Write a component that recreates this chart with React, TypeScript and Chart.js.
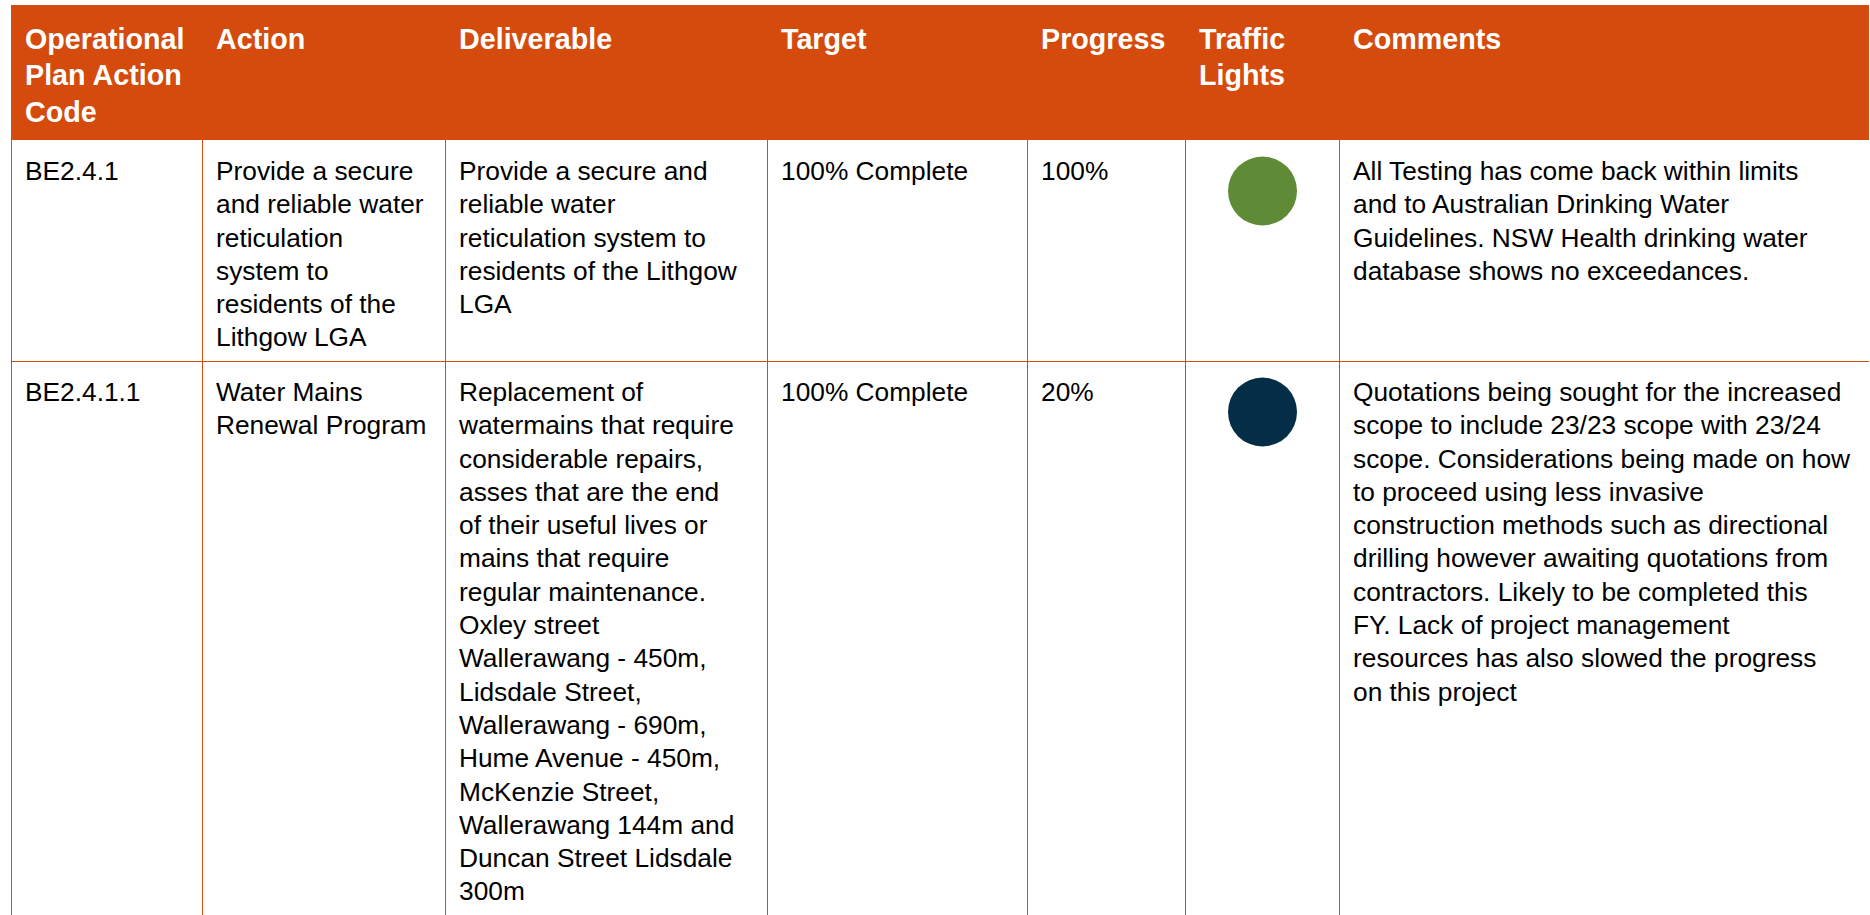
import React, { useEffect, useRef } from "react";
import { Chart, registerables } from "chart.js";

Chart.register(...registerables);

// ---- Data ----
const headers: string[][] = [
  ["Operational", "Plan Action", "Code"],
  ["Action"],
  ["Deliverable"],
  ["Target"],
  ["Progress"],
  ["Traffic", "Lights"],
  ["Comments"],
];

const codes: string[] = ["BE2.4.1", "BE2.4.1.1"];

const actions: string[][] = [
  ["Provide a secure", "and reliable water", "reticulation", "system to", "residents of the", "Lithgow LGA"],
  ["Water Mains", "Renewal Program"],
];

const deliverables: string[][] = [
  ["Provide a secure and", "reliable water", "reticulation system to", "residents of the Lithgow", "LGA"],
  [
    "Replacement of",
    "watermains that require",
    "considerable repairs,",
    "asses that are the end",
    "of their useful lives or",
    "mains that require",
    "regular maintenance.",
    "Oxley street",
    "Wallerawang - 450m,",
    "Lidsdale Street,",
    "Wallerawang - 690m,",
    "Hume Avenue - 450m,",
    "McKenzie Street,",
    "Wallerawang 144m and",
    "Duncan Street Lidsdale",
    "300m",
  ],
];

const targets: string[] = ["100% Complete", "100% Complete"];

const progress: number[] = [100, 20];

const trafficStatus: string[] = ["green", "navy"];

const comments: string[][] = [
  [
    "All Testing has come back within limits",
    "and to Australian Drinking Water",
    "Guidelines. NSW Health drinking water",
    "database shows no exceedances.",
  ],
  [
    "Quotations being sought for the increased",
    "scope to include 23/23 scope with 23/24",
    "scope. Considerations being made on how",
    "to proceed using less invasive",
    "construction methods such as directional",
    "drilling however awaiting quotations from",
    "contractors. Likely to be completed this",
    "FY. Lack of project management",
    "resources has also slowed the progress",
    "on this project",
  ],
];

// ---- Styles ----
const ORANGE = "#D44B0D";
const LIGHT_COLORS: Record<string, string> = { green: "#5F8B37", navy: "#032E45" };
const colWidths = [191, 243, 322, 260, 158, 154, 530];
const rowHeights = [222, 700];
const HEADER_H = 135;
const FONT = "'Liberation Sans', Arial, Helvetica, sans-serif";
const LIGHT_BOX_H = 102;

function Lines({ lines }: { lines: string[] }) {
  return (
    <>
      {lines.map((l, i) => (
        <div key={i} style={{ whiteSpace: "nowrap" }}>
          {l}
        </div>
      ))}
    </>
  );
}

function TrafficLight({ status, width }: { status: string; width: number }) {
  const ref = useRef<HTMLCanvasElement | null>(null);
  useEffect(() => {
    if (!ref.current) return;
    const color = LIGHT_COLORS[status];
    const chart = new Chart(ref.current, {
      type: "scatter",
      data: {
        datasets: [
          {
            label: status,
            data: [{ x: 0, y: 0 }],
            backgroundColor: color,
            borderColor: color,
            borderWidth: 0,
            pointRadius: 34.5,
            pointHoverRadius: 34.5,
            clip: false as any,
          },
        ],
      },
      options: {
        animation: false,
        responsive: false,
        maintainAspectRatio: false,
        devicePixelRatio: 1,
        layout: { padding: 0 },
        events: [],
        plugins: { legend: { display: false }, tooltip: { enabled: false } },
        scales: {
          x: { type: "linear", min: -1, max: 1, display: false },
          y: { type: "linear", min: -1, max: 1, display: false },
        },
      },
    });
    return () => chart.destroy();
  }, [status]);
  return (
    <div style={{ position: "absolute", left: 0, top: 0, width, height: LIGHT_BOX_H }}>
      <canvas ref={ref} width={width} height={LIGHT_BOX_H} style={{ width, height: LIGHT_BOX_H, display: "block" }} />
    </div>
  );
}

export default function App() {
  const bodyCellStyle = (ci: number): React.CSSProperties => ({
    position: "relative",
    width: colWidths[ci],
    boxSizing: "border-box",
    borderLeft: `1px solid ${ORANGE}`,
    paddingLeft: 13,
    paddingTop: 15,
    height: "100%",
  });

  return (
    <div
      style={{
        position: "fixed",
        left: 0,
        top: 0,
        width: 1870,
        height: 915,
        overflow: "hidden",
        background: "#fff",
        fontFamily: FONT,
      }}
    >
      <div style={{ position: "absolute", left: 11, top: 5, width: colWidths.reduce((a, b) => a + b, 0) }}>
        {/* header */}
        <div style={{ display: "flex", height: HEADER_H, background: ORANGE, color: "#fff" }}>
          {headers.map((h, ci) => (
            <div
              key={ci}
              style={{
                width: colWidths[ci],
                boxSizing: "border-box",
                paddingLeft: 14,
                paddingTop: 16,
                fontWeight: 700,
                fontSize: 28.7,
                lineHeight: "36.3px",
              }}
            >
              <Lines lines={h} />
            </div>
          ))}
        </div>
        {/* body rows */}
        {codes.map((code, ri) => (
          <div
            key={ri}
            style={{
              display: "flex",
              height: rowHeights[ri],
              boxSizing: "border-box",
              borderBottom: `1px solid ${ORANGE}`,
              marginTop: ri === 0 ? 0 : -1,
              fontSize: 26.3,
              lineHeight: "33.3px",
              color: "#000",
            }}
          >
            <div style={bodyCellStyle(0)}>{code}</div>
            <div style={bodyCellStyle(1)}>
              <Lines lines={actions[ri]} />
            </div>
            <div style={bodyCellStyle(2)}>
              <Lines lines={deliverables[ri]} />
            </div>
            <div style={bodyCellStyle(3)}>{targets[ri]}</div>
            <div style={bodyCellStyle(4)}>{progress[ri]}%</div>
            <div style={{ ...bodyCellStyle(5), paddingLeft: 0, paddingTop: 0 }}>
              <TrafficLight status={trafficStatus[ri]} width={colWidths[5] - 1} />
            </div>
            <div style={bodyCellStyle(6)}>
              <Lines lines={comments[ri]} />
            </div>
          </div>
        ))}
      </div>
    </div>
  );
}
